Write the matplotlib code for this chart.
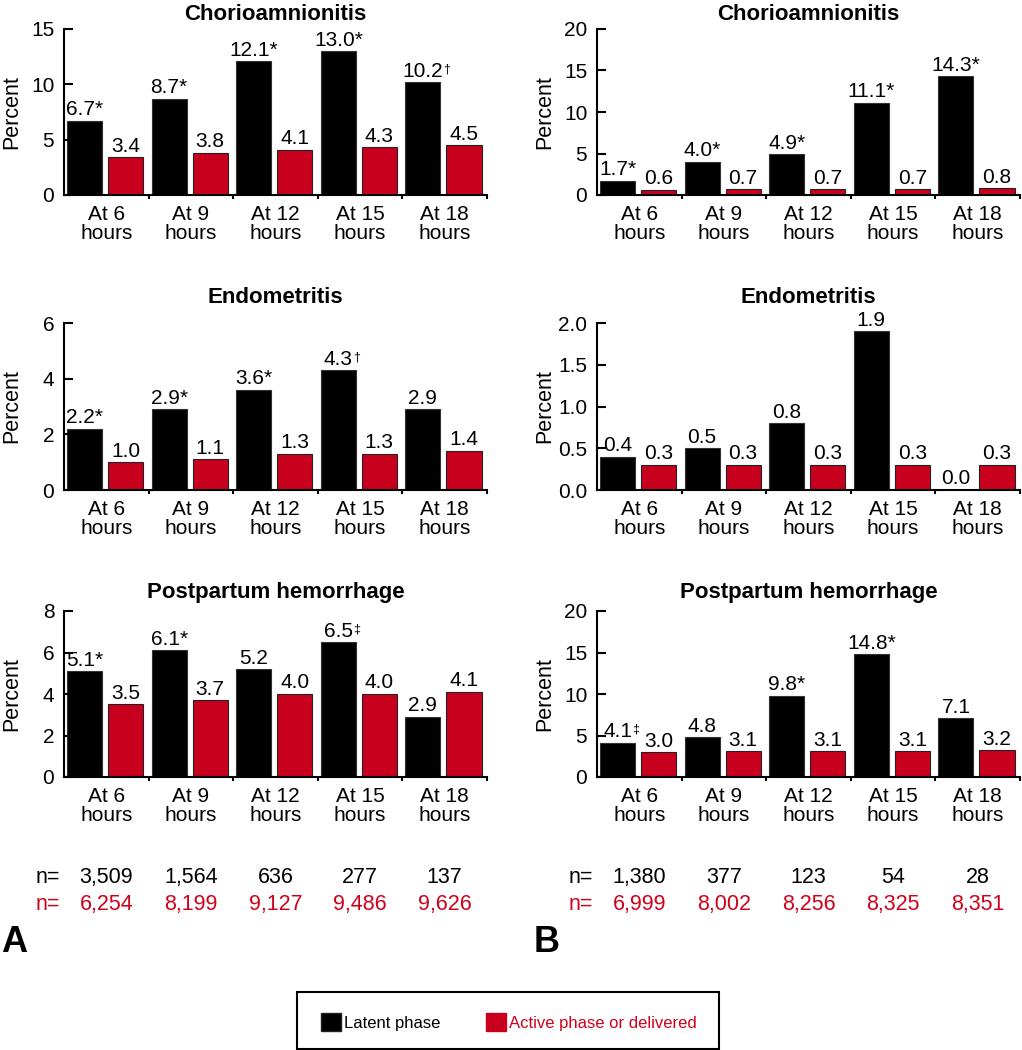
import matplotlib
matplotlib.use('Agg')
import matplotlib.pyplot as plt
from matplotlib.patches import Rectangle, Patch
import matplotlib.transforms as mtransforms

plt.rcParams['font.family'] = ['Liberation Sans', 'DejaVu Sans']

# ---------------- data ----------------
categories = ['At 6\nhours', 'At 9\nhours', 'At 12\nhours', 'At 15\nhours', 'At 18\nhours']
series_names = ['Latent phase', 'Active phase or delivered']
titles = ['Chorioamnionitis', 'Endometritis', 'Postpartum hemorrhage']

# Panel A
a_chorio_latent = [6.7, 8.7, 12.1, 13.0, 10.2]
a_chorio_active = [3.4, 3.8, 4.1, 4.3, 4.5]
a_chorio_marks = ['*', '*', '*', '*', '†']
a_endo_latent = [2.2, 2.9, 3.6, 4.3, 2.9]
a_endo_active = [1.0, 1.1, 1.3, 1.3, 1.4]
a_endo_marks = ['*', '*', '*', '†', '']
a_pph_latent = [5.1, 6.1, 5.2, 6.5, 2.9]
a_pph_active = [3.5, 3.7, 4.0, 4.0, 4.1]
a_pph_marks = ['*', '*', '', '‡', '']
a_n_latent = ['3,509', '1,564', '636', '277', '137']
a_n_active = ['6,254', '8,199', '9,127', '9,486', '9,626']
a_yticks = [[0, 5, 10, 15], [0, 2, 4, 6], [0, 2, 4, 6, 8]]

# Panel B
b_chorio_latent = [1.7, 4.0, 4.9, 11.1, 14.3]
b_chorio_active = [0.6, 0.7, 0.7, 0.7, 0.8]
b_chorio_marks = ['*', '*', '*', '*', '*']
b_endo_latent = [0.4, 0.5, 0.8, 1.9, 0.0]
b_endo_active = [0.3, 0.3, 0.3, 0.3, 0.3]
b_endo_marks = ['', '', '', '', '']
b_pph_latent = [4.1, 4.8, 9.8, 14.8, 7.1]
b_pph_active = [3.0, 3.1, 3.1, 3.1, 3.2]
b_pph_marks = ['‡', '', '*', '*', '']
b_n_latent = ['1,380', '377', '123', '54', '28']
b_n_active = ['6,999', '8,002', '8,256', '8,325', '8,351']
b_yticks = [[0, 5, 10, 15, 20], [0.0, 0.5, 1.0, 1.5, 2.0], [0, 5, 10, 15, 20]]

# ---------------- style ----------------
BLACK = '#000000'
RED = '#c8001e'
RED_TXT = '#d0021b'
W, H = 1022, 1050
FS = 15
NFS = 15.5

fig = plt.figure(figsize=(W / 100, H / 100), dpi=100)


def fx(px):
    return px / W


def fy(py):
    return 1 - py / H


rows_px = [(29, 195), (323, 490), (611, 777)]
title_base_px = [20, 303, 598]
panels = [
    dict(left=64, right=487, label='A', label_x=1, nx=60,
         latent=[a_chorio_latent, a_endo_latent, a_pph_latent],
         active=[a_chorio_active, a_endo_active, a_pph_active],
         marks=[a_chorio_marks, a_endo_marks, a_pph_marks],
         yticks=a_yticks, n_latent=a_n_latent, n_active=a_n_active),
    dict(left=597, right=1020, label='B', label_x=534, nx=593,
         latent=[b_chorio_latent, b_endo_latent, b_pph_latent],
         active=[b_chorio_active, b_endo_active, b_pph_active],
         marks=[b_chorio_marks, b_endo_marks, b_pph_marks],
         yticks=b_yticks, n_latent=b_n_latent, n_active=b_n_active),
]

bw = 0.415
off_l = 0.035 + bw / 2
off_r = 0.52 + bw / 2

for p in panels:
    for r, (top, bot) in enumerate(rows_px):
        ax = fig.add_axes([fx(p['left']), fy(bot), (p['right'] - p['left']) / W, (bot - top) / H])
        lat = p['latent'][r]
        act = p['active'][r]
        mk = p['marks'][r]
        xs = list(range(len(categories)))
        ax.bar([x + off_l for x in xs], lat, width=bw, color=BLACK, edgecolor='#333333', linewidth=0.8)
        ax.bar([x + off_r for x in xs], act, width=bw, color=RED, edgecolor='#222222', linewidth=0.8)
        yt = p['yticks'][r]
        ax.set_ylim(0, yt[-1])
        ax.set_xlim(0, len(categories))
        ax.set_yticks(yt)
        if any(float(v) != int(v) for v in yt):
            ax.set_yticklabels(['%.1f' % v for v in yt])
        else:
            ax.set_yticklabels(['%d' % v for v in yt])
        ax.set_xticks([x + 0.5 for x in xs])
        ax.set_xticklabels(categories, linespacing=1.0)
        ax.set_xticks(list(range(1, len(categories) + 1)), minor=True)
        ax.tick_params(axis='x', which='major', length=0, pad=7.5, labelsize=FS)
        ax.tick_params(axis='x', which='minor', direction='out', length=3, width=1.5)
        ax.tick_params(axis='y', direction='in', length=6.5, width=1.5, pad=7, labelsize=FS)
        for s in ['top', 'right']:
            ax.spines[s].set_visible(False)
        for s in ['left', 'bottom']:
            ax.spines[s].set_linewidth(1.5)
        ax.set_ylabel('Percent', fontsize=15.5, va='center')
        ax.yaxis.set_label_coords(-0.123, 0.5)

        # value labels
        for x, v, m in zip(xs, lat, mk):
            base = '%.1f' % v
            txt = base + m if m == '*' else base
            t = ax.annotate(txt, xy=(x + off_l, v), xytext=(0, 4), textcoords='offset points',
                            ha='center', va='baseline', fontsize=FS)
            if m in ('†', '‡'):
                ax.annotate(m, xy=(1.0, 0.92), xycoords=t, xytext=(0.3, 0),
                            textcoords='offset points', ha='left', va='top', fontsize=9)
        for x, v in zip(xs, act):
            ax.annotate('%.1f' % v, xy=(x + off_r, v), xytext=(0, 4), textcoords='offset points',
                        ha='center', va='baseline', fontsize=FS)

        fig.text(fx((p['left'] + p['right']) / 2), fy(title_base_px[r]), titles[r],
                 ha='center', va='baseline', fontsize=16, fontweight='bold')

        if r == 2:
            tr = mtransforms.blended_transform_factory(ax.transData, fig.transFigure)
            for x, nl, na in zip(xs, p['n_latent'], p['n_active']):
                ax.text(x + 0.5, fy(883), nl, transform=tr, ha='center', va='baseline',
                        fontsize=NFS, color=BLACK)
                ax.text(x + 0.5, fy(910), na, transform=tr, ha='center', va='baseline',
                        fontsize=NFS, color=RED_TXT)
    fig.text(fx(p['nx']), fy(883), 'n=', ha='right', va='baseline', fontsize=NFS, color=BLACK)
    fig.text(fx(p['nx']), fy(910), 'n=', ha='right', va='baseline', fontsize=NFS, color=RED_TXT)
    fig.text(fx(p['label_x']), fy(952), p['label'], ha='left', va='baseline',
             fontsize=26, fontweight='bold')

# legend
fig.patches.append(Rectangle((fx(297), fy(1049)), (719 - 297) / W, (1049 - 992) / H,
                             transform=fig.transFigure, fill=False, edgecolor='black',
                             linewidth=1.5))
handles = [Patch(facecolor=BLACK, edgecolor='#222222'), Patch(facecolor=RED, edgecolor=RED)]
leg = fig.legend(handles, series_names, loc='center', bbox_to_anchor=(fx(509), fy(1022)),
                 ncol=2, frameon=False, fontsize=12, handlelength=1.2, handleheight=1.2,
                 handletextpad=0.2, columnspacing=2.7, borderpad=0)
leg.get_texts()[1].set_color(RED_TXT)

fig.savefig('out.png', dpi=100)
